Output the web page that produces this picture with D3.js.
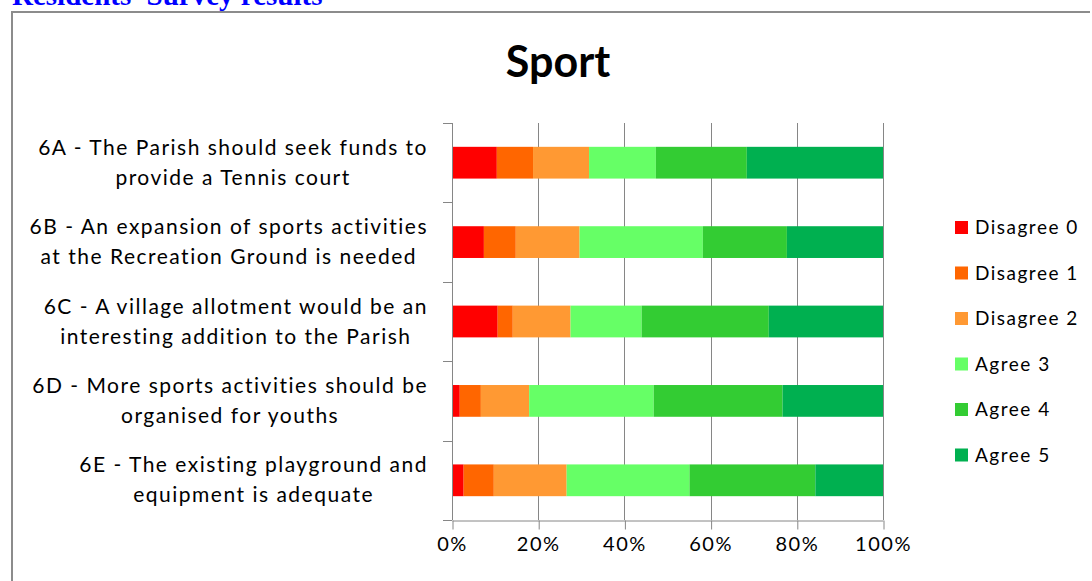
<!DOCTYPE html>
<html>
<head>
<meta charset="utf-8">
<script src="https://cdn.jsdelivr.net/npm/d3@7/dist/d3.min.js"></script>
<style>
  body { margin: 0; background: #fff; overflow: hidden; }
  text { font-family: Lato, "Open Sans", sans-serif; fill: #000; }
</style>
</head>
<body>
<div id="chart"></div>
<script>
// Chart data (percent of responses)
const questions = ["6A", "6B", "6C", "6D", "6E"];
const questionLines = [
  ["6A - The Parish should seek funds to", "provide a Tennis court"],
  ["6B - An expansion of sports activities", "at the Recreation Ground is needed"],
  ["6C - A village allotment would be an", "interesting addition to the Parish"],
  ["6D - More sports activities should be", "organised for youths"],
  ["6E - The existing playground and", "equipment is adequate"]
];
const responses = ["Disagree 0", "Disagree 1", "Disagree 2", "Agree 3", "Agree 4", "Agree 5"];
const disagree0 = [10.4, 7.4, 10.6, 1.8, 2.7];
const disagree1 = [8.4, 7.4, 3.5, 4.9, 7.0];
const disagree2 = [13.0, 14.8, 13.4, 11.2, 16.9];
const agree3 = [15.5, 28.6, 16.5, 28.9, 28.5];
const agree4 = [21.1, 19.5, 29.5, 29.9, 29.2];
const agree5 = [31.6, 22.3, 26.5, 23.3, 15.7];
const tickValues = [0, 0.2, 0.4, 0.6, 0.8, 1];
const colors = ["#FF0000", "#FF6600", "#FF9933", "#66FF66", "#33CC33", "#00B050"];

const svgWidth = 1092;
const svgHeight = 581;
const margin = { top: 123, right: 209, bottom: 61, left: 452 };
const width = svgWidth - margin.left - margin.right;
const height = svgHeight - margin.top - margin.bottom;

// build rows for d3.stack
const seriesValues = [disagree0, disagree1, disagree2, agree3, agree4, agree5];
const rows = questions.map((q, i) => {
  const row = { question: q };
  responses.forEach((r, j) => { row[r] = seriesValues[j][i]; });
  return row;
});

const stacked = d3.stack()
  .keys(responses)
  .offset(d3.stackOffsetExpand)(rows);

const svg = d3.select("#chart")
  .append("svg")
  .attr("width", svgWidth)
  .attr("height", svgHeight);

// page header, cut off at the top
svg.append("text")
  .attr("x", 12)
  .attr("y", 5)
  .style("font-family", "'Liberation Serif', 'Times New Roman', serif")
  .style("font-weight", "bold")
  .style("font-size", "29px")
  .style("fill", "#0000FF")
  .text("Residents' Survey results");

// chart frame (top and left edges visible)
svg.append("path")
  .attr("d", `M12,${svgHeight + 2} V12 H1090`)
  .attr("fill", "none")
  .attr("stroke", "#8c8c8c")
  .attr("stroke-width", 2);

// title
svg.append("text")
  .attr("x", 558)
  .attr("y", 77)
  .attr("text-anchor", "middle")
  .style("font-weight", "bold")
  .style("font-size", "43px")
  .text("Sport");

const chartGroup = svg.append("g")
  .attr("transform", `translate(${margin.left}, ${margin.top})`);

const xScale = d3.scaleLinear()
  .domain([0, 1])
  .range([0, width]);

const yScale = d3.scaleBand()
  .domain(questions)
  .range([0, height])
  .paddingInner(0.6)
  .paddingOuter(0.3);

const gridColor = "#868686";

// vertical gridlines
chartGroup.append("g")
  .selectAll("line")
  .data(tickValues)
  .join("line")
  .attr("x1", d => Math.round(xScale(d)) + 0.5)
  .attr("x2", d => Math.round(xScale(d)) + 0.5)
  .attr("y1", 0)
  .attr("y2", height)
  .attr("stroke", gridColor);

// bars
chartGroup.append("g")
  .selectAll("g")
  .data(stacked)
  .join("g")
  .attr("fill", (d, i) => colors[i])
  .selectAll("rect")
  .data(d => d)
  .join("rect")
  .attr("x", d => xScale(d[0]))
  .attr("width", d => xScale(d[1]) - xScale(d[0]))
  .attr("y", d => yScale(d.data.question))
  .attr("height", yScale.bandwidth());

// bottom axis
const bottomAxis = d3.axisBottom(xScale)
  .tickValues(tickValues)
  .tickFormat(d3.format(".0%"))
  .tickSize(9)
  .tickSizeOuter(0);

const xAxis = chartGroup.append("g")
  .attr("transform", `translate(0, ${height + 0.5})`)
  .call(bottomAxis);
xAxis.selectAll("path, line").attr("stroke", gridColor);
xAxis.selectAll("line").attr("transform", "translate(0.5,0)");
xAxis.selectAll("text")
  .attr("y", 30)
  .attr("dy", 0)
  .style("font-size", "20px")
  .style("letter-spacing", "1.5px")
  .style("font-family", "Lato, sans-serif")
  .attr("fill", "#000");

// left axis: line with ticks at category boundaries
const step = yScale.step();
const boundaries = d3.range(questions.length + 1).map(i => i * step);
chartGroup.append("line")
  .attr("x1", 0.5).attr("x2", 0.5)
  .attr("y1", 0).attr("y2", height)
  .attr("stroke", gridColor);
chartGroup.append("g")
  .selectAll("line")
  .data(boundaries)
  .join("line")
  .attr("x1", -9).attr("x2", 0)
  .attr("y1", d => Math.round(d) + 0.5)
  .attr("y2", d => Math.round(d) + 0.5)
  .attr("stroke", gridColor);

// category labels: block right-aligned, lines centred inside it
const labelGroup = chartGroup.append("g");
questions.forEach((q, i) => {
  const cy = yScale(q) + yScale.bandwidth() / 2;
  const g = labelGroup.append("g");
  const texts = g.selectAll("text")
    .data(questionLines[i])
    .join("text")
    .style("font-size", "21px")
    .style("letter-spacing", "1.5px")
    .attr("y", (d, j) => cy + (j - 0.5) * 30 + 7)
    .attr("text-anchor", "middle")
    .text(d => d);
  const blockWidth = d3.max(texts.nodes(), n => n.getComputedTextLength());
  texts.attr("x", -24 - blockWidth / 2);
});

// legend
const legend = svg.append("g")
  .attr("transform", "translate(955, 221)");
const legendItems = legend.selectAll("g")
  .data(responses)
  .join("g")
  .attr("transform", (d, i) => `translate(0, ${i * 45.5})`);
legendItems.append("rect")
  .attr("width", 13)
  .attr("height", 13)
  .attr("fill", (d, i) => colors[i]);
legendItems.append("text")
  .attr("x", 20)
  .attr("y", 13)
  .style("font-size", "19px")
  .style("letter-spacing", "1.5px")
  .text(d => d);
</script>
</body>
</html>
